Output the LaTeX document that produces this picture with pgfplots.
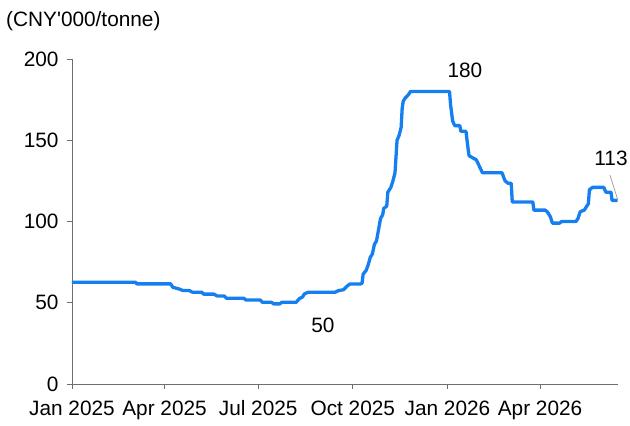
\documentclass[border=0pt]{standalone}
\usepackage{pgfplots}
\pgfplotsset{compat=1.18}
\usepackage{fontspec}
\setmainfont{Liberation Sans}
\newfontfamily\plainfont{Liberation Sans}[Ligatures=TeXOff]
\definecolor{lineblue}{RGB}{22,127,240}
\definecolor{axgray}{RGB}{110,110,110}
\newcommand{\fs}{\fontsize{20.8}{24}\selectfont}
\begin{document}
\begin{tikzpicture}
\path[use as bounding box] (-72pt,-42pt) rectangle (558pt,384pt);
\begin{axis}[
  at={(0,0)}, anchor=south west,
  scale only axis, width=545.7pt, height=325pt,
  xmin=0, xmax=530.5, ymin=0, ymax=200,
  axis lines*=left,
  axis line style={axgray, line width=0.9pt},
  every tick/.style={axgray, line width=0.9pt},
  tick align=outside, major tick length=5pt,
  xtick={0,90,181,273,365,455},
  xticklabels={Jan 2025,Apr 2025,Jul 2025,Oct 2025,Jan 2026,Apr 2026},
  ytick={0,50,100,150,200},
  tick label style={font=\fs, text=black},
  xticklabel style={yshift=-8pt},
  yticklabel style={xshift=-5pt},
  /pgf/number format/assume math mode=true,
  clip=false,
]
\addplot[lineblue, line width=3.3pt, line join=round] coordinates {
(0,62.6) (62,62.6) (63,61.6) (96,61.6) (98,59.5) (104,58.5) (108,57.5) (114,57.5)
(117,56.5) (126,56.5) (128,55.3) (138,55.3) (141,54.2) (148,54.2) (150,52.8) (167,52.8)
(169,51.7) (183,51.7) (185,50.3) (194,50.3) (196,49.3) (202,49.3) (204,50.3) (218,50.3)
(221,52.5) (224,53.5) (226,55.5) (230,56.5) (256,56.5) (259,57.5) (264,58.0) (267,60.0)
(270,61.5) (280,61.5) (282,62.0) (283,67.5) (286,70) (288,73.5) (290,78) (292,80)
(294,86) (296,88) (298,95) (300,102) (302,104) (303,108) (306,109.5) (307,118)
(310,121) (312,125) (314,130) (315,140) (316,150) (318,153) (320,158) (321,170)
(322,174) (324,176) (327,178) (329,180) (367,180) (368,172) (370,162) (372,159)
(377,159) (378,155.5) (383,155.5) (385,145) (386,140.5) (390,139) (393,138) (396,134)
(399,130) (418,130) (421,125) (424,123.5) (427,123.5) (428,112) (448,112) (449,107)
(460,107) (462,106) (465,103) (467,99) (474,99) (476,100) (490,100) (492,102)
(494,106) (498,107) (500,109) (502,111) (503,119.5) (506,121) (517,121) (519,118)
(524,118) (525,113) (530.5,113)
};
\draw[gray!70, line width=0.8pt] (axis cs:523,128.6) -- (axis cs:530.5,113.5);
\node[font=\fs] at (axis cs:382,193) {180};
\node[font=\fs] at (axis cs:244,36.3) {50};
\node[font=\fs] at (axis cs:524,139) {113};
\end{axis}
\node[anchor=west, font=\fs, inner sep=0pt] at (-66pt,363pt) {\plainfont (CNY'000/tonne)};
\end{tikzpicture}
\end{document}
